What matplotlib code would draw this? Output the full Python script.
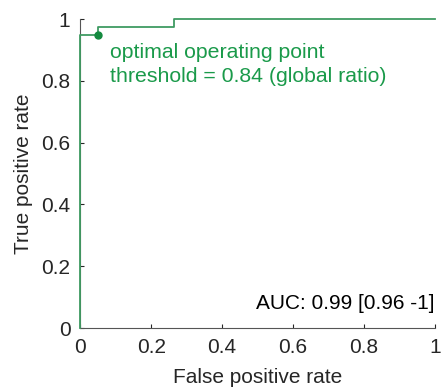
import matplotlib
matplotlib.use("Agg")
import matplotlib.pyplot as plt

plt.rcParams['font.family'] = ['Liberation Sans', 'DejaVu Sans']

fpr = [0.0, 0.0, 0.05, 0.05, 0.265, 0.265, 1.0]
tpr = [0.0, 0.95, 0.95, 0.975, 0.975, 1.0, 1.0]
opt_fpr, opt_tpr = 0.05, 0.95
annot = "optimal operating point\nthreshold = 0.84 (global ratio)"
auc_text = "AUC: 0.99 [0.96 -1]"
ticks = [0, 0.2, 0.4, 0.6, 0.8, 1]
tick_labels = ["0", "0.2", "0.4", "0.6", "0.8", "1"]

fig = plt.figure(figsize=(4.43, 3.91), dpi=100)
ax = fig.add_axes([0.181, 0.161, 0.801, 0.79])
ax.plot(fpr, tpr, color='#3f9b62', lw=1.3, zorder=3, clip_on=False)
ax.plot(opt_fpr, opt_tpr, 'o', color='#148a3f', ms=5, zorder=4, clip_on=False)
ax.text(0.083, 0.922, annot, color='#1a9a4a', fontsize=15.3, va='top', ha='left', linespacing=1.3)
ax.text(0.998, 0.05, auc_text, color='black', fontsize=15, ha='right', va='bottom')
ax.set_xlim(0, 1)
ax.set_ylim(0, 1)
ax.set_xticks(ticks)
ax.set_xticklabels(tick_labels)
ax.set_yticks(ticks)
ax.set_yticklabels(tick_labels)
ax.tick_params(direction='in', length=3, labelsize=15, colors='#262626', labelcolor='#262626', width=0.8, pad=7)
for s in ['top', 'right']:
    ax.spines[s].set_visible(False)
for s in ['left', 'bottom']:
    ax.spines[s].set_color('#555555')
    ax.spines[s].set_linewidth(0.8)
ax.set_xlabel("False positive rate", fontsize=15, color='#262626', labelpad=8)
ax.set_ylabel("True positive rate", fontsize=15, color='#262626', labelpad=6)
fig.savefig("out.png", dpi=100)
